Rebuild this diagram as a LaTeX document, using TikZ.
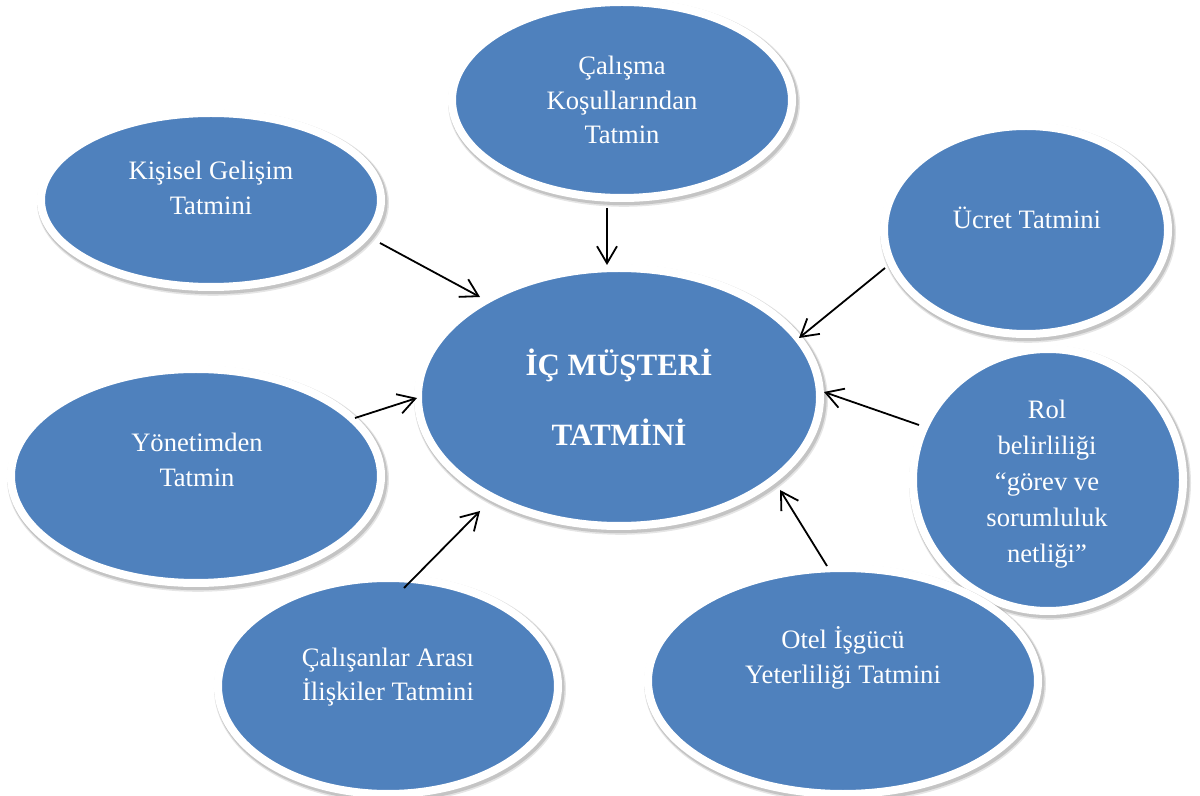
\documentclass[tikz,border=0pt]{standalone}
\usepackage{fontspec}
\setmainfont{Liberation Serif}
\usetikzlibrary{shapes.geometric,arrows.meta}
\definecolor{blobblue}{HTML}{4F81BD}
\begin{document}
\begin{tikzpicture}[x=0.5pt,y=-0.5pt,
  blob/.style={ellipse, fill=blobblue, draw=white, line width=4pt, inner sep=0pt,
    preaction={draw=black, draw opacity=0.10, line width=6pt, transform canvas={xshift=1pt,yshift=-1.4pt}},
    preaction={draw=black, draw opacity=0.14, line width=5pt, transform canvas={xshift=0.8pt,yshift=-1.1pt}}},
  lbl/.style={text=white, align=center, font=\fontsize{13.3}{17.3}\selectfont, inner sep=0pt},
  arr/.style={draw=black, line width=0.9pt, -{Straight Barb[length=8.5pt,width=10pt,line width=0.9pt]}}]
\useasboundingbox (0,0) rectangle (1200,796);
\fill[white] (0,0) rectangle (1200,796);

% ellipses
\node[blob, minimum width=170pt, minimum height=98pt]  (cal) at (622,100) {};
\node[blob, minimum width=170pt, minimum height=87pt]  (kis) at (211,200) {};
\node[blob, minimum width=142pt, minimum height=104pt] (ucr) at (1026,230) {};
\node[blob, minimum width=201pt, minimum height=129pt] (ic)  at (619,397) {};
\node[blob, minimum width=185pt, minimum height=107pt] (yon) at (196,476) {};
\node[blob, minimum width=135pt, minimum height=131pt] (rol) at (1048,480) {};
\node[blob, minimum width=195pt, minimum height=113pt] (ote) at (843,681) {};
\node[blob, minimum width=170pt, minimum height=108pt] (cls) at (388,686) {};

% labels
\node[lbl] (calt) at (622,100) {Çalışma\\Koşullarından\\Tatmin};
\node[lbl] (kist) at (211,188) {Kişisel Gelişim\\Tatmini};
\node[lbl] (ucrt) at (1027,218) {Ücret Tatmini};
\node[lbl, font=\bfseries\fontsize{15.5}{35}\selectfont] (ict) at (619,397) {İÇ MÜŞTERİ\\TATMİNİ};
\node[lbl] (yont) at (197,460) {Yönetimden\\Tatmin};
\node[lbl, font=\fontsize{13.3}{18}\selectfont] (rolt) at (1047,484) {Rol\\belirliliği\\“görev ve\\sorumluluk\\netliği”};
\node[lbl] (otet) at (843,658) {Otel İşgücü\\Yeterliliği Tatmini};
\node[lbl] (clst) at (388,677) {Çalışanlar Arası\\İlişkiler Tatmini};

% arrow end points
\coordinate (a1) at (380,243); \coordinate (b1) at (480,297);
\coordinate (a2) at (607,208); \coordinate (b2) at (607,265);
\coordinate (a3) at (885,268); \coordinate (b3) at (799,338);
\coordinate (a4) at (919,425); \coordinate (b4) at (824,392);
\coordinate (a5) at (827,566); \coordinate (b5) at (780,490);
\coordinate (a6) at (404,588); \coordinate (b6) at (480,511);
\coordinate (a7) at (355,418); \coordinate (b7) at (417,398);

\draw[arr] (a1) -- (b1);
\draw[arr] (a2) -- (b2);
\draw[arr] (a3) -- (b3);
\draw[arr] (a4) -- (b4);
\draw[arr] (a5) -- (b5);
\draw[arr] (a6) -- (b6);
\draw[arr] (a7) -- (b7);
\end{tikzpicture}
\end{document}
